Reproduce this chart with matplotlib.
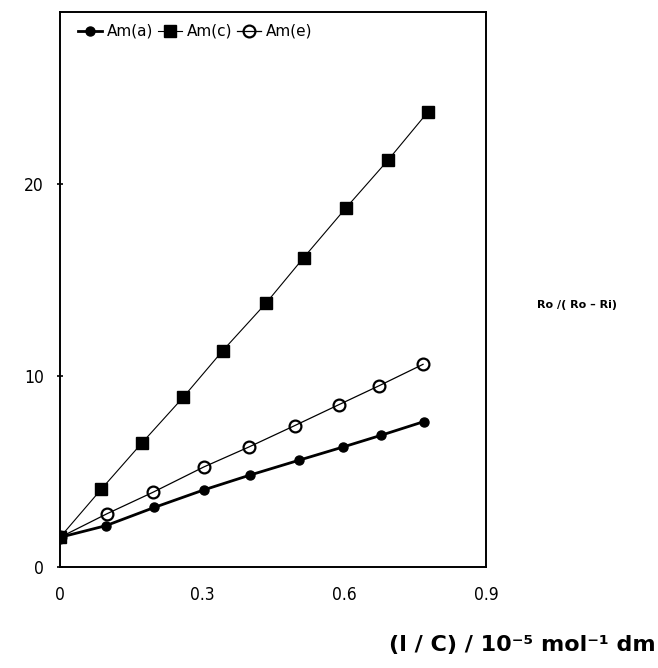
import matplotlib
matplotlib.use("Agg")
import matplotlib.pyplot as plt

# Data
x_a = [0.0, 0.097, 0.199, 0.304, 0.401, 0.505, 0.598, 0.678, 0.769]
y_a = [1.55, 2.16, 3.11, 4.03, 4.80, 5.58, 6.27, 6.88, 7.60]

x_c = [0.0, 0.087, 0.173, 0.260, 0.344, 0.435, 0.515, 0.604, 0.693, 0.777]
y_c = [1.55, 4.06, 6.48, 8.86, 11.31, 13.78, 16.17, 18.76, 21.26, 23.77]

x_e = [0.0, 0.099, 0.196, 0.304, 0.399, 0.496, 0.589, 0.674, 0.767]
y_e = [1.55, 2.78, 3.90, 5.23, 6.27, 7.39, 8.48, 9.47, 10.59]

xticks = [0, 0.3, 0.6, 0.9]
xtick_labels = ["0", "0.3", "0.6", "0.9"]
yticks = [0, 10, 20]
ytick_labels = ["0", "10", "20"]
series_labels = ["Am(a)", "Am(c)", "Am(e)"]

fig = plt.figure(figsize=(6.58, 6.68), dpi=100)
ax = fig.add_axes([0.0912, 0.1512, 0.6474, 0.8308])

ax.plot(x_a, y_a, color="black", lw=2.0, marker="o", ms=6.5,
        mfc="black", mec="black", label=series_labels[0])
ax.plot(x_c, y_c, color="black", lw=0.8, marker="s", ms=9,
        mfc="black", mec="black", label=series_labels[1])
ax.plot(x_e, y_e, color="black", lw=0.9, marker="o", ms=8.5,
        mfc="none", mec="black", mew=1.6, label=series_labels[2])

ax.set_xlim(0, 0.9)
ax.set_ylim(0, 29)
ax.set_xticks(xticks)
ax.set_xticklabels(xtick_labels, fontfamily="DejaVu Sans", fontstretch="condensed",
                   fontweight="light", fontsize=12.5)
ax.set_yticks(yticks)
ax.set_yticklabels(ytick_labels, fontfamily="DejaVu Sans", fontstretch="condensed",
                   fontweight="light", fontsize=12.5)
ax.tick_params(axis="x", length=0, pad=14)
ax.tick_params(axis="y", length=5, direction="inout", pad=9, width=1.2)
for s in ax.spines.values():
    s.set_linewidth(1.4)

leg = ax.legend(loc="upper left", ncol=3, frameon=False, fontsize=11,
                handlelength=1.6, handletextpad=0.3, columnspacing=0.3,
                bbox_to_anchor=(0.02, 0.995), borderaxespad=0.2)

fig.text(0.877, 0.543, "Ro /( Ro \u2013 Ri)", fontsize=8, fontweight="bold",
         ha="center", va="center")
fig.text(0.996, 0.035, "(l / C) / 10\u207b\u2075 mol\u207b\u00b9 dm",
         fontsize=16, fontweight="bold", ha="right", va="center")

fig.savefig("out.png", dpi=100)
